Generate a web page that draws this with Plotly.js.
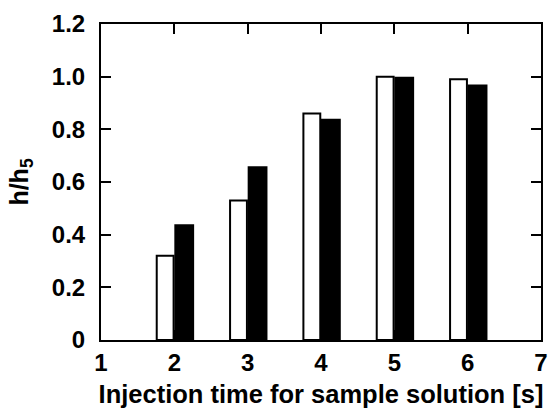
<!DOCTYPE html>
<html>
<head>
<meta charset="utf-8">
<script src="https://cdn.plot.ly/plotly-3.0.1.min.js"></script>
<style>html,body{margin:0;padding:0;background:#fff;}#chart{width:558px;height:408px;}</style>
</head>
<body>
<div id="chart"></div>
<script>
const injectionTime = [2, 3, 4, 5, 6];
const seriesOpen = [0.32, 0.53, 0.86, 1.00, 0.99];
const seriesFilled = [0.44, 0.66, 0.84, 1.00, 0.97];
const xTicks = [1, 2, 3, 4, 5, 6, 7];
const yTicks = [0, 0.2, 0.4, 0.6, 0.8, 1.0, 1.2];
const yTickText = ['0', '0.2', '0.4', '0.6', '0.8', '1.0', '1.2'];

const fam = 'Liberation Sans, Arial, sans-serif';

const traces = [
  {type: 'bar', x: injectionTime, y: seriesOpen, width: 0.23, offset: -0.24,
   marker: {color: '#fff', line: {color: '#000', width: 2}}, hoverinfo: 'x+y'},
  {type: 'bar', x: injectionTime, y: seriesFilled, width: 0.27, offset: 0,
   marker: {color: '#000', line: {color: '#000', width: 0}}, hoverinfo: 'x+y'}
];

const layout = {
  width: 558, height: 408,
  margin: {l: 101, r: 17, t: 24, b: 68},
  paper_bgcolor: '#fff', plot_bgcolor: '#fff',
  showlegend: false, barmode: 'overlay',
  font: {family: fam, size: 24, color: '#000'},
  xaxis: {
    range: [1, 7], tickvals: xTicks, ticktext: xTicks.map(String),
    ticks: 'inside', ticklen: 10, tickwidth: 2, tickcolor: '#000',
    showline: true, linecolor: '#000', linewidth: 2, mirror: 'ticks',
    showgrid: false, zeroline: false, automargin: false,
    tickfont: {family: fam, size: 24, color: '#000', weight: 'bold'},
    title: {text: 'Injection time for sample solution [s]', standoff: 12,
            font: {family: fam, size: 25.5, color: '#000', weight: 'bold'}}
  },
  yaxis: {
    range: [0, 1.2], tickvals: yTicks, ticktext: yTickText,
    ticks: 'inside', ticklen: 10, tickwidth: 2, tickcolor: '#000',
    showline: true, linecolor: '#000', linewidth: 2, mirror: 'ticks',
    showgrid: false, zeroline: false, automargin: false,
    ticklabelstandoff: 9,
    tickfont: {family: fam, size: 24, color: '#000', weight: 'bold'},
    title: {text: 'h/h<sub>5</sub>', standoff: 16,
            font: {family: fam, size: 25, color: '#000', weight: 'bold'}}
  }
};

Plotly.newPlot('chart', traces, layout, {displayModeBar: false, staticPlot: true});
</script>
</body>
</html>
